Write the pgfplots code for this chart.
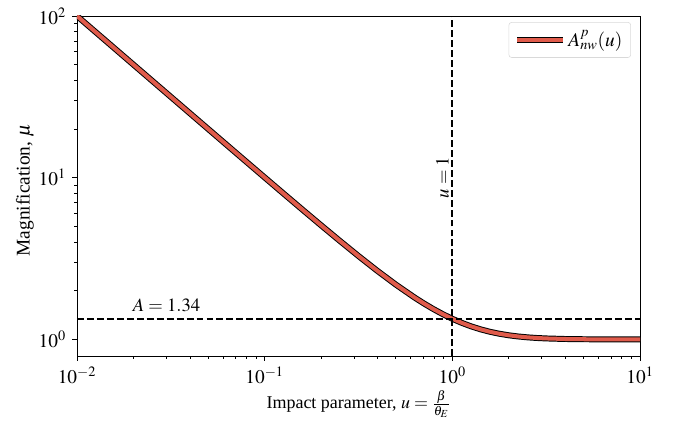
\documentclass[border=0pt]{standalone}
\usepackage{mathptmx}
\usepackage{fontspec}
\setmainfont{Liberation Serif}
\usepackage{pgfplots}
\pgfplotsset{compat=1.18}
\definecolor{curvered}{RGB}{224,91,75}

\begin{document}
\fontsize{13}{15}\selectfont
\begin{tikzpicture}
\begin{axis}[
  name=ax,
  scale only axis,
  width=5.63in, height=3.40in,
  xmode=log, ymode=log,
  xmin=0.01, xmax=10,
  ymin=0.79, ymax=100,
  tick align=outside,
  xtick pos=bottom, ytick pos=left,
  major tick length=3.5pt, minor tick length=2pt,
  every tick/.style={black, line width=0.6pt},
  axis line style={line width=0.6pt},
  xtick={0.01,0.1,1,10},
  ytick={1,10,100},
  xticklabels={$10^{-2}$,$10^{-1}$,$10^{0}$,$10^{1}$},
  yticklabels={$10^{0}$,$10^{1}$,$10^{2}$},
  tick label style={font=\fontsize{14}{16}\selectfont},
  xlabel={Impact parameter, $u=\frac{\beta}{\theta_E}$},
  ylabel={Magnification, $\mu$},
  xlabel style={font=\fontsize{13}{15}\selectfont, at={(axis description cs:0.5,0)},
    anchor=center, yshift=-0.48in},
  ylabel style={font=\fontsize{14}{16}\selectfont, at={(axis description cs:0,0.5)},
    anchor=center, yshift=0.52in, xshift=-0.04in},
  legend style={at={(0.984,0.982)}, anchor=north east, draw=black!15,
    rounded corners=2pt, font=\fontsize{14}{16}\selectfont, inner sep=4pt},
  legend cell align=left,
]
\addplot[black, line width=4.3pt, forget plot] coordinates {
 (0.01,100.00375) (0.012589,79.4375) (0.015849,63.1017) (0.019953,50.1262)
 (0.025119,39.8201) (0.031623,31.6346) (0.039811,25.1338) (0.050119,19.9714)
 (0.063096,15.8726) (0.079433,12.6191) (0.1,10.0375) (0.125893,7.9904)
 (0.158489,6.36885) (0.199526,5.08639) (0.251189,4.07464) (0.316228,3.27964)
 (0.398107,2.65878) (0.501187,2.17850) (0.630957,1.81232) (0.707946,1.66526)
 (0.794328,1.53914) (0.891251,1.43190) (1,1.341641) (1.122018,1.26656)
 (1.258925,1.20495) (1.412538,1.15516) (1.584893,1.11558) (1.778279,1.08471)
 (1.995262,1.06108) (2.238721,1.04334) (2.511886,1.03029) (2.818383,1.02086)
 (3.162278,1.014185) (3.981072,1.006337) (5.011872,1.00273) (6.309573,1.00114)
 (7.943282,1.00047) (10,1.00019)
};
\addplot[curvered, line width=2.9pt,
  legend image code/.code={
    \draw[black, line width=4.3pt] (0cm,0cm) -- (1.15cm,0cm);
    \draw[curvered, line width=2.9pt] (0cm,0cm) -- (1.15cm,0cm);}] coordinates {
 (0.01,100.00375) (0.012589,79.4375) (0.015849,63.1017) (0.019953,50.1262)
 (0.025119,39.8201) (0.031623,31.6346) (0.039811,25.1338) (0.050119,19.9714)
 (0.063096,15.8726) (0.079433,12.6191) (0.1,10.0375) (0.125893,7.9904)
 (0.158489,6.36885) (0.199526,5.08639) (0.251189,4.07464) (0.316228,3.27964)
 (0.398107,2.65878) (0.501187,2.17850) (0.630957,1.81232) (0.707946,1.66526)
 (0.794328,1.53914) (0.891251,1.43190) (1,1.341641) (1.122018,1.26656)
 (1.258925,1.20495) (1.412538,1.15516) (1.584893,1.11558) (1.778279,1.08471)
 (1.995262,1.06108) (2.238721,1.04334) (2.511886,1.03029) (2.818383,1.02086)
 (3.162278,1.014185) (3.981072,1.006337) (5.011872,1.00273) (6.309573,1.00114)
 (7.943282,1.00047) (10,1.00019)
};
\addlegendentry{$A^{p}_{nw}(u)$}
\addplot[black, line width=1.3pt, dash pattern=on 5pt off 2.2pt, forget plot]
  coordinates {(0.01,1.34) (10,1.34)};
\addplot[black, line width=1.3pt, dash pattern=on 5pt off 2.2pt, forget plot]
  coordinates {(1,0.79) (1,100)};
\node[rotate=90, font=\fontsize{13.5}{15}\selectfont] at (axis cs:0.885,10) {$u=1$};
\node[font=\fontsize{13.5}{15}\selectfont] at (axis cs:0.03,1.62) {$A=1.34$};
\end{axis}
\pgfresetboundingbox
\path ([xshift=-0.77in,yshift=-0.70in]ax.south west) rectangle ([xshift=0.40in,yshift=0.16in]ax.north east);
\end{tikzpicture}
\end{document}
